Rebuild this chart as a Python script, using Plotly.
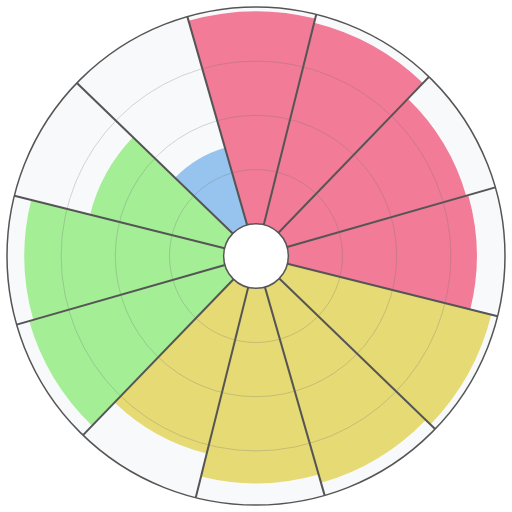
import plotly.graph_objects as go

categories = ["P1", "P2", "P3", "P4", "Y1", "Y2", "Y3", "Y4", "G1", "G2", "G3", "B1"]
positions = [0, 30, 60, 90, 120, 150, 180, 210, 240, 270, 300, 330]
values = [98, 96, 86, 87, 97, 94, 90, 79, 94, 92, 64, 37]
colors = ["#F27B97"] * 4 + ["#E6DA74"] * 4 + ["#A4EE96"] * 3 + ["#96C4EE"]
boundaries = [15, 45, 75, 105, 135, 165, 195, 225, 255, 285, 315, 345]
radial_ticks = [0, 25, 50, 75]

fig = go.Figure()
fig.add_trace(go.Barpolar(
    r=values,
    theta=positions,
    width=[30] * len(values),
    marker=dict(color=colors, line=dict(width=0)),
    hovertext=categories,
    showlegend=False,
    subplot="polar",
))
# empty overlay subplot used to draw the grid above the bars
fig.add_trace(go.Scatterpolar(
    r=[None], theta=[None], mode="lines", showlegend=False,
    hoverinfo="skip", subplot="polar2",
))

common_radial = dict(
    range=[0, 100],
    tickvals=radial_ticks,
    showticklabels=False,
    ticks="",
    showline=False,
)
common_angular = dict(
    direction="clockwise",
    rotation=91,
    tickvals=boundaries,
    showticklabels=False,
    ticks="",
)

fig.update_layout(
    width=512, height=512,
    margin=dict(l=7, r=7, t=7, b=7),
    paper_bgcolor="white",
    polar=dict(
        bgcolor="#F8F9FB",
        hole=0.13,
        domain=dict(x=[0, 1], y=[0, 1]),
        radialaxis=dict(**common_radial, showgrid=False),
        angularaxis=dict(**common_angular, showgrid=False, showline=False),
    ),
    polar2=dict(
        bgcolor="rgba(0,0,0,0)",
        hole=0.13,
        domain=dict(x=[0, 1], y=[0, 1]),
        radialaxis=dict(**common_radial, gridcolor="rgba(110,110,110,0.28)", gridwidth=1),
        angularaxis=dict(**common_angular, showline=True, linecolor="#555555", linewidth=1.5,
                         gridcolor="#555555", gridwidth=1.5),
    ),
)

fig.write_html("out.html")
